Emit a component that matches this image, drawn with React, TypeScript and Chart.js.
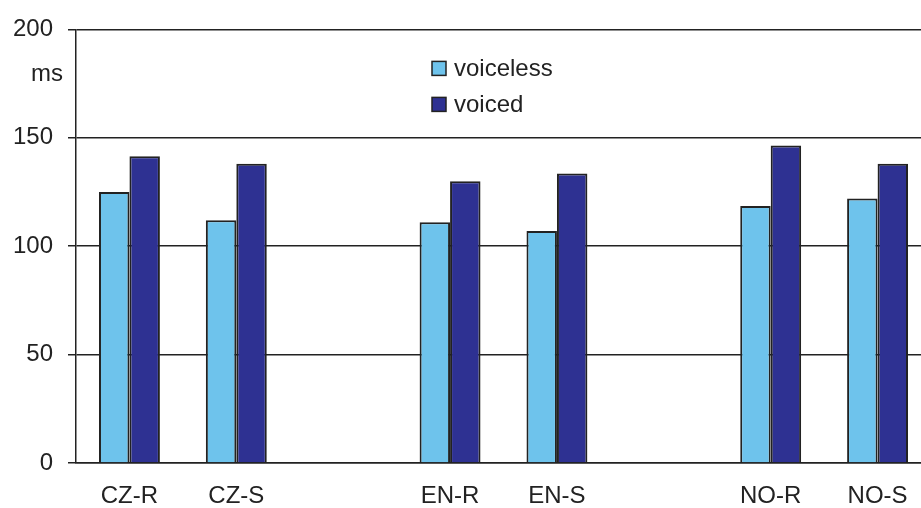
import React, { useEffect, useRef } from "react";
import { Chart, registerables } from "chart.js";

Chart.register(...registerables);

const categories = ["CZ-R", "CZ-S", "", "EN-R", "EN-S", "", "NO-R", "NO-S"];
const voiceless = [125, 112, null, 111, 107, null, 118.5, 122];
const voiced = [141.5, 138, null, 130, 133.5, null, 146.5, 138];
const yTicks = [0, 50, 100, 150, 200];
const unitLabel = "ms";

const FONT = "'Liberation Sans', Arial, sans-serif";
const TEXT = "#222222";
const FS = 24;

const overlayPlugin = {
  id: "overlay",
  afterDraw(chart: any) {
    const { ctx, chartArea } = chart;
    ctx.save();
    ctx.font = `${FS}px ${FONT}`;
    ctx.fillStyle = TEXT;
    ctx.textAlign = "right";
    ctx.textBaseline = "middle";
    ctx.fillText(unitLabel, chartArea.left - 13, chartArea.top + 45);
    const items = chart.data.datasets;
    items.forEach((ds: any, i: number) => {
      const bx = chartArea.left + 356;
      const cy = chartArea.top + 39 + i * 36;
      ctx.fillStyle = ds.backgroundColor;
      ctx.fillRect(bx, cy - 7, 14, 14);
      ctx.strokeStyle = "#222";
      ctx.lineWidth = 1.5;
      ctx.strokeRect(bx, cy - 7, 14, 14);
      ctx.fillStyle = TEXT;
      ctx.textAlign = "left";
      ctx.fillText(ds.label, bx + 22, cy + 1);
    });
    ctx.restore();
  },
};

export default function App() {
  const ref = useRef<HTMLCanvasElement | null>(null);
  useEffect(() => {
    if (!ref.current) return;
    const chart = new Chart(ref.current, {
      type: "bar",
      data: {
        labels: categories,
        datasets: [
          {
            label: "voiceless",
            data: voiceless,
            backgroundColor: "#6EC3EC",
            borderColor: "#222",
            borderWidth: 2,
          },
          {
            label: "voiced",
            data: voiced,
            backgroundColor: "#2E3192",
            borderColor: "#222",
            borderWidth: 2,
          },
        ],
      },
      options: {
        responsive: false,
        animation: false,
        layout: { padding: { top: 27, right: 9, left: 0, bottom: 0 } },
        datasets: { bar: { barPercentage: 1, categoryPercentage: 0.57 } },
        plugins: { legend: { display: false }, tooltip: { enabled: false } },
        scales: {
          x: {
            grid: { display: false, drawTicks: false },
            border: { display: true, color: "#222", width: 1.5 },
            ticks: {
              color: TEXT,
              font: { family: FONT, size: FS },
              padding: 19,
              maxRotation: 0,
              autoSkip: false,
            },
            afterFit(scale: any) {
              scale.height = 45;
            },
          },
          y: {
            min: 0,
            max: 200,
            afterBuildTicks(scale: any) {
              scale.ticks = yTicks.map((v) => ({ value: v }));
            },
            grid: { color: "#222", lineWidth: 1.5, tickLength: 8, drawTicks: true },
            border: { display: true, color: "#222", width: 1.5 },
            ticks: {
              color: TEXT,
              font: { family: FONT, size: FS },
              padding: 15,
            },
            afterFit(scale: any) {
              scale.width = 76;
            },
          },
        },
      },
      plugins: [overlayPlugin],
    });
    return () => chart.destroy();
  }, []);
  return (
    <div
      style={{
        position: "fixed",
        left: 0,
        top: 0,
        width: 921,
        height: 508,
        overflow: "hidden",
        background: "#fff",
      }}
    >
      <canvas ref={ref} width={940} height={508} style={{ display: "block" }} />
    </div>
  );
}
